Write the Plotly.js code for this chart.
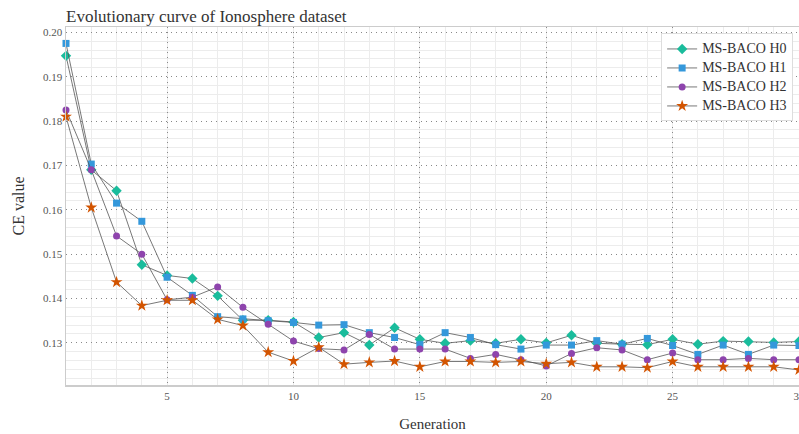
<!DOCTYPE html>
<html>
<head>
<meta charset="utf-8">
<script src="https://cdn.plot.ly/plotly-3.0.1.min.js"></script>
<style>html,body{margin:0;padding:0;background:#fff;}#chart{width:799px;height:434px;}</style>
</head>
<body>
<div id="chart"></div>
<script>
const generations = Array.from({length: 30}, (_, i) => i + 1);
const seriesNames = ["MS-BACO H0", "MS-BACO H1", "MS-BACO H2", "MS-BACO H3"];
const h0 = [0.1947, 0.1690, 0.1643, 0.1476, 0.1452, 0.1445, 0.1406, 0.1351, 0.1351, 0.1347,
            0.1312, 0.1323, 0.1295, 0.1334, 0.1308, 0.1299, 0.1305, 0.1299, 0.1308, 0.1300,
            0.1317, 0.1299, 0.1297, 0.1296, 0.1308, 0.1297, 0.1304, 0.1303, 0.1301, 0.1303];
const h1 = [0.1975, 0.1703, 0.1615, 0.1574, 0.1448, 0.1407, 0.1359, 0.1354, 0.1350, 0.1346,
            0.1340, 0.1341, 0.1323, 0.1312, 0.1296, 0.1323, 0.1312, 0.1296, 0.1286, 0.1295,
            0.1295, 0.1305, 0.1297, 0.1310, 0.1294, 0.1274, 0.1295, 0.1274, 0.1295, 0.1294];
const h2 = [0.1825, 0.1690, 0.1541, 0.1500, 0.1397, 0.1403, 0.1426, 0.1380, 0.1342, 0.1304,
            0.1287, 0.1284, 0.1319, 0.1286, 0.1286, 0.1286, 0.1265, 0.1274, 0.1262, 0.1248,
            0.1276, 0.1289, 0.1284, 0.1262, 0.1277, 0.1262, 0.1262, 0.1265, 0.1262, 0.1262];
const h3 = [0.1810, 0.1605, 0.1437, 0.1384, 0.1396, 0.1396, 0.1353, 0.1339, 0.1279, 0.1259,
            0.1290, 0.1252, 0.1256, 0.1259, 0.1246, 0.1258, 0.1258, 0.1256, 0.1258, 0.1253,
            0.1256, 0.1246, 0.1246, 0.1244, 0.1258, 0.1246, 0.1246, 0.1246, 0.1246, 0.1239];
const xTickVals = [5, 10, 15, 20, 25, 30];
const colors = ["#1abc9c", "#3498db", "#8e44ad", "#d35400"];
const symbols = ["diamond", "square", "circle", "star"];
const sizes = [8, 7, 7, 9];
const allY = [h0, h1, h2, h3];

const traces = allY.map((ys, i) => ({
  x: generations, y: ys, name: '<span style="font-size:14px">' + seriesNames[i] + '</span>',
  type: "scatter", mode: "lines+markers",
  line: {color: "#555555", width: 0.8},
  marker: {color: colors[i], symbol: symbols[i], size: sizes[i], line: {width: 0}},
  cliponaxis: false
}));

const layout = {
  width: 799, height: 434,
  margin: {l: 66, r: 0, t: 27, b: 49},
  paper_bgcolor: "#ffffff", plot_bgcolor: "#ffffff",
  font: {family: "Liberation Serif, Times New Roman, serif", color: "#444"},
  title: {text: "Evolutionary curve of Ionosphere dataset", x: 66/799, xanchor: "left", y: 1 - 16/434, yanchor: "middle",
          font: {size: 17, color: "#333", family: "Liberation Serif, serif"}},
  showlegend: true,
  legend: {x: 0.992, xanchor: "right", y: 0.982, yanchor: "top", bgcolor: "#ffffff",
           bordercolor: "#dddddd", borderwidth: 1, font: {size: 11.5, color: "#333"}, tracegroupgap: 0},
  xaxis: {
    range: [1, 30.001], tickmode: "array", tickvals: xTickVals, ticktext: xTickVals.map(String),
    ticklabeloverflow: "allow",
    showgrid: true, gridcolor: "#888888", griddash: "1px,4px", gridwidth: 1,
    minor: {dtick: 1, tick0: 0, showgrid: true, gridcolor: "#ececec", gridwidth: 1, griddash: "solid"},
    showline: true, linecolor: "#cccccc", linewidth: 1.5, mirror: true, zeroline: false,
    ticks: "", tickfont: {size: 11, color: "#555"},
    title: {text: "Generation", font: {size: 15, color: "#333"}, standoff: 18}
  },
  yaxis: {
    range: [0.1205, 0.2012], tick0: 0, dtick: 0.01, tickformat: ".2f",
    showgrid: true, gridcolor: "#888888", griddash: "1px,4px", gridwidth: 1,
    minor: {dtick: 0.002, tick0: 0, showgrid: true, gridcolor: "#ececec", gridwidth: 1, griddash: "solid"},
    showline: true, linecolor: "#cccccc", linewidth: 1.5, mirror: true, zeroline: false,
    ticks: "", tickfont: {size: 11, color: "#555"},
    title: {text: "CE value", font: {size: 16, color: "#333"}, standoff: 14}
  }
};

Plotly.newPlot("chart", traces, layout, {displayModeBar: false, staticPlot: true});
</script>
</body>
</html>
